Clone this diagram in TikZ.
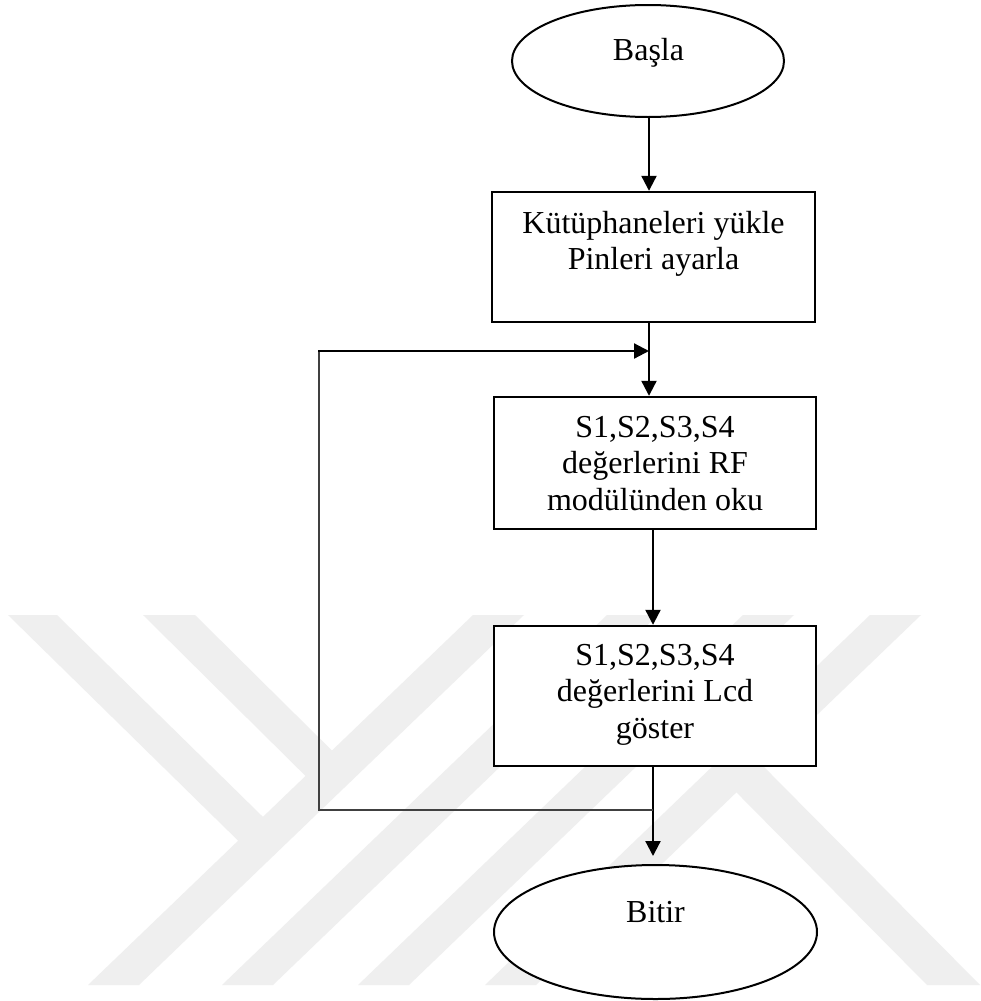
\documentclass[tikz,border=0pt]{standalone}
\usepackage{fontspec}
\setmainfont{Liberation Serif}
\usetikzlibrary{arrows.meta,shapes.geometric}
\definecolor{wmark}{RGB}{239,239,239}
\definecolor{fbgray}{RGB}{64,64,64}
\tikzset{
  shapebox/.style={draw=black, line width=2.4pt, fill=white, rectangle, inner sep=0pt},
  shapeell/.style={draw=black, line width=2pt, fill=white, ellipse, inner sep=0pt},
  txt/.style={inner sep=0pt, align=center, font=\fontsize{32}{36.5}\selectfont},
  flow/.style={draw=black, line width=2.2pt, -{Triangle[length=15pt,width=15pt]}},
  fb/.style={draw=fbgray, line width=1.3pt},
  wm/.style={fill=wmark, draw=none}
}
\begin{document}
\begin{tikzpicture}[x=1pt, y=-1pt]
\useasboundingbox (0,0) rectangle (981,1001);
\fill[white] (0,0) rectangle (981,1001);
% watermark
\fill[wm] (88,985) -- (139,985) -- (524,615) -- (473,615) -- cycle;
\fill[wm] (222,985) -- (273,985) -- (658,615) -- (607,615) -- cycle;
\fill[wm] (358,985) -- (409,985) -- (794,615) -- (743,615) -- cycle;
\fill[wm] (485,985) -- (536,985) -- (921,615) -- (870,615) -- cycle;
\fill[wm] (8,615) -- (57,615) -- (275.8,829.5) -- (251,853.3) -- cycle;
\fill[wm] (143,615) -- (195,615) -- (344.7,763.2) -- (318.3,788.6) -- cycle;
\fill[wm] (723.8,779.6) -- (750.8,753.6) -- (980,985) -- (927,985) -- cycle;
% shapes
\node[shapeell, minimum width=272pt, minimum height=112pt] (start) at (648,61) {};
\node[shapebox, minimum width=323pt, minimum height=130pt] (b1) at (653.5,257) {};
\node[shapebox, minimum width=322pt, minimum height=132pt] (b2) at (655,463) {};
\node[shapebox, minimum width=322pt, minimum height=140pt] (b3) at (655,696) {};
\node[shapeell, minimum width=323pt, minimum height=134pt] (end) at (655.5,932) {};
% texts
\node[txt, anchor=base] (startt) at (648.5,60) {Başla};
\node[txt, anchor=north] (b1t) at (653.5,211) {Kütüphaneleri yükle\\Pinleri ayarla};
\node[txt, anchor=north] (b2t) at (655,416) {S1,S2,S3,S4\\değerlerini RF\\modülünden oku};
\node[txt, anchor=north] (b3t) at (655,644) {S1,S2,S3,S4\\değerlerini Lcd\\göster};
\node[txt, anchor=base] (endt) at (655.5,922) {Bitir};
% connectors
\coordinate (j2) at (649,351);
\coordinate (j1) at (653,810);
\coordinate (c1) at (319,810);
\coordinate (c2) at (319,351);
\draw[flow] (start.south -| j2) -- (b1.north -| j2);
\draw[flow] (b1.south -| j2) -- (b2.north -| j2);
\draw[flow] (b2.south -| j1) -- (b3.north -| j1);
\draw[flow] (b3.south -| j1) -- ([yshift=8pt]end.north -| j1);
\draw[fb] (j1) -- (c1) -- (c2);
\draw[flow] ([xshift=-0.6pt]c2) -- (j2);
\end{tikzpicture}
\end{document}
